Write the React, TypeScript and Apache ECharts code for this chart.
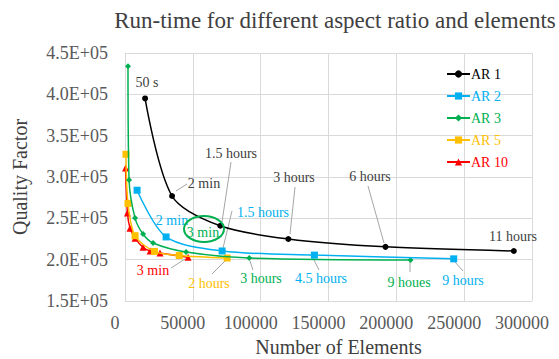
import React, { useEffect, useRef } from "react";
import * as echarts from "echarts";

const seriesNames = ["AR 1", "AR 2", "AR 3", "AR 5", "AR 10"];
const seriesColors = ["#000000", "#00B0F0", "#00B050", "#FFC000", "#FF0000"];
const seriesSymbols = ["circle", "rect", "diamond", "rect", "triangle"];
const seriesSymbolSizes = [6, 7, 6, 7, 7];

const ar1: number[][] = [
  [14800, 395000], [34700, 277000], [70200, 241000], [120400, 225000], [192000, 215500], [286600, 210500],
];
const ar2: number[][] = [
  [8900, 284000], [30300, 227500], [71600, 210500], [139600, 205500], [242300, 201000],
];
const ar3: number[][] = [
  [2200, 434000], [3000, 296500], [7400, 250300], [13300, 231000], [20700, 220100], [45000, 209200], [91600, 202000], [210500, 199600],
];
const ar5: number[][] = [
  [700, 327500], [2200, 268000], [7400, 229000], [21700, 210000], [40000, 205000], [75300, 202000],
];
const ar10: number[][] = [
  [400, 311000], [1800, 256500], [3700, 238000], [7400, 226000], [13300, 215000], [18500, 210500], [25800, 208000], [46500, 203000],
];
const allData = [ar1, ar2, ar3, ar5, ar10];

const xTicks = { min: 0, max: 300000, interval: 50000 };
const yTicks = { min: 150000, max: 450000, interval: 50000 };

const FONT = "'Liberation Serif', 'Times New Roman', Times, serif";
const DARK = "#404040";
const LEADER = "#A6A6A6";

// annotation callouts: [text, x, y, colour]
const notes: [string, number, number, string][] = [
  ["50 s", 147, 82, DARK],
  ["2 min", 204, 183, DARK],
  ["1.5 hours", 231, 153, DARK],
  ["3 hours", 294, 177, DARK],
  ["6 hours", 370, 176, DARK],
  ["11 hours", 513, 236, DARK],
  ["2 min", 172, 220, "#00B0F0"],
  ["1.5 hours", 263, 212, "#00B0F0"],
  ["3 min", 203, 232, "#00B050"],
  ["3 min", 153, 270, "#FF0000"],
  ["2 hours", 209, 283, "#FFC000"],
  ["3 hours", 261, 278, "#00B050"],
  ["4.5 hours", 321, 278, "#00B0F0"],
  ["9 houes", 409, 282, "#00B050"],
  ["9 hours", 463, 280, "#00B0F0"],
];
const leaders: number[][] = [
  [176, 191, 187, 184],
  [231, 162, 222, 222],
  [295, 187, 290, 234],
  [368, 186, 384, 243],
  [232, 211, 223, 248],
  [171, 268, 185, 259],
  [212, 274, 225, 261],
  [250, 261, 253, 270],
  [313, 258, 319, 270],
  [410, 262, 410, 272],
  [455, 262, 463, 271],
];

export default function App() {
  const ref = useRef<HTMLDivElement>(null);
  useEffect(() => {
    document.body.style.margin = "0";
    if (!ref.current) return;
    const chart = echarts.init(ref.current, undefined, { renderer: "svg" });
    const graphic: any[] = [];
    leaders.forEach((l) =>
      graphic.push({
        type: "line",
        shape: { x1: l[0], y1: l[1], x2: l[2], y2: l[3] },
        style: { stroke: LEADER, lineWidth: 1 },
        z: 1,
      })
    );
    notes.forEach((n) =>
      graphic.push({
        type: "text",
        x: n[1],
        y: n[2],
        style: {
          text: n[0],
          fill: n[3],
          fontSize: 14,
          fontFamily: FONT,
          align: "center",
          verticalAlign: "middle",
        },
        z: 10,
      })
    );
    graphic.push({
      type: "ellipse",
      shape: { cx: 204, cy: 229, rx: 20, ry: 13 },
      style: { fill: "none", stroke: "#00B050", lineWidth: 2 },
      z: 10,
    });

    chart.setOption({
      animation: false,
      backgroundColor: "#ffffff",
      textStyle: { fontFamily: FONT },
      title: {
        text: "Run-time for different aspect ratio and elements",
        left: 330,
        top: 4,
        textAlign: "center",
        textStyle: { fontFamily: FONT, fontSize: 23, fontWeight: "normal", color: DARK },
      },
      legend: {
        orient: "vertical",
        left: 441,
        top: 62,
        itemWidth: 23,
        itemHeight: 9,
        itemGap: 8,
        data: seriesNames.map((n, i) => ({ name: n, textStyle: { color: seriesColors[i], fontFamily: FONT } })),
        textStyle: { fontFamily: FONT, fontSize: 14, padding: [0, 0, 0, -4] },
      },
      grid: { left: 125, right: 27, top: 53, bottom: 58, containLabel: false, outerBoundsMode: "none" },
      xAxis: {
        type: "value",
        min: xTicks.min,
        max: xTicks.max,
        interval: xTicks.interval,
        name: "Number of Elements",
        nameLocation: "middle",
        nameGap: 36,
        nameTextStyle: { fontFamily: FONT, fontSize: 20, color: DARK, padding: [0, 0, 0, 20] },
        axisLine: { show: false },
        axisTick: { show: false },
        axisLabel: {
          fontFamily: FONT,
          fontSize: 18,
          color: "#595959",
          margin: 13,
          padding: [0, 20, 0, 0],
          formatter: (v: number) => String(v),
        },
        splitLine: { show: true, lineStyle: { color: "#D9D9D9", width: 1 } },
      },
      yAxis: {
        type: "value",
        min: yTicks.min,
        max: yTicks.max,
        interval: yTicks.interval,
        name: "Quality Factor",
        nameLocation: "middle",
        nameGap: 95,
        nameTextStyle: { fontFamily: FONT, fontSize: 20, color: DARK },
        axisLine: { show: false },
        axisTick: { show: false },
        axisLabel: {
          fontFamily: FONT,
          fontSize: 18,
          color: "#595959",
          margin: 17,
          formatter: (v: number) => (v / 100000).toFixed(1) + "E+05",
        },
        splitLine: { show: true, lineStyle: { color: "#D9D9D9", width: 1 } },
      },
      series: allData.map((d, i) => ({
        name: seriesNames[i],
        type: "line",
        data: d,
        smooth: 0.3,
        symbol: seriesSymbols[i],
        symbolSize: seriesSymbolSizes[i],
        itemStyle: { color: seriesColors[i] },
        lineStyle: { color: seriesColors[i], width: 1.5 },
        z: 5 - i + 2,
      })),
      graphic,
    });
    return () => chart.dispose();
  }, []);
  return <div ref={ref} style={{ width: 559, height: 359 }} />;
}
